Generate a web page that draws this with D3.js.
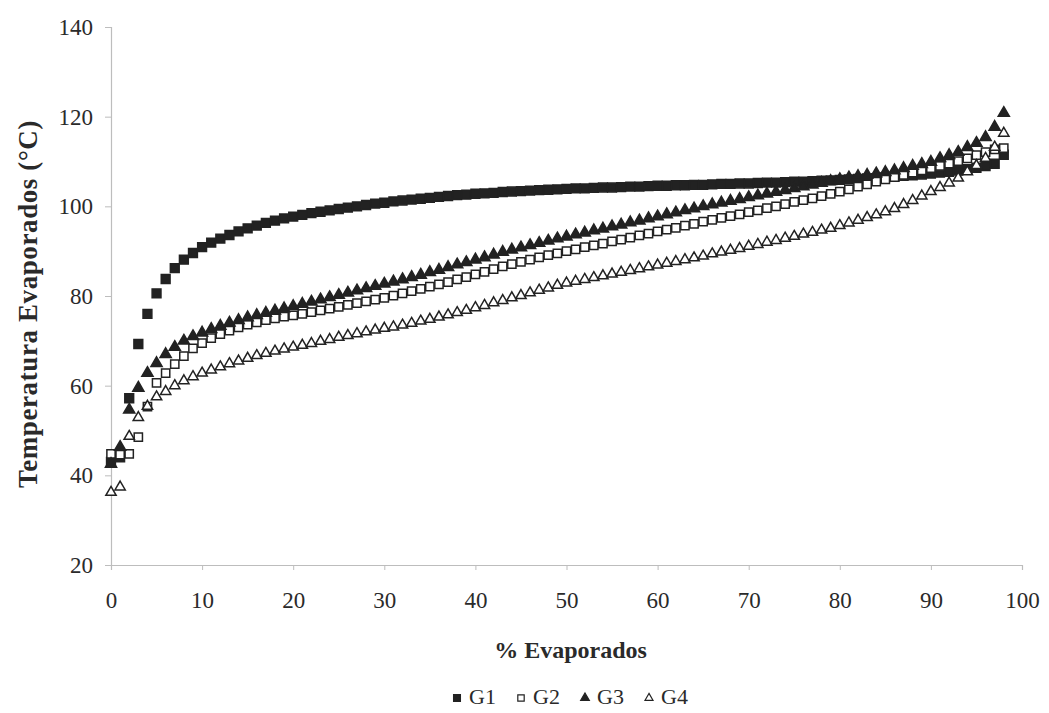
<!DOCTYPE html>
<html>
<head>
<meta charset="utf-8">
<script src="https://cdn.jsdelivr.net/npm/d3@7"></script>
<style>
  body { margin: 0; background: #fff; }
  text { font-family: "Liberation Serif", "Times New Roman", serif; fill: #2a2a2a; }
</style>
</head>
<body>
<svg id="chart"></svg>
<script>
// % evaporated, one point per percent
const pct = d3.range(0, 99);

const g1 = [43.0,44.0,57.2,69.3,76.0,80.6,83.8,86.2,88.1,89.6,
  90.9,91.9,92.8,93.6,94.4,95.1,95.7,96.3,96.8,97.3,
  97.7,98.1,98.5,98.8,99.1,99.4,99.7,100.0,100.3,100.6,
  100.8,101.1,101.3,101.5,101.7,101.9,102.1,102.3,102.5,102.6,
  102.8,102.9,103.0,103.2,103.3,103.4,103.5,103.6,103.7,103.8,
  103.9,104.0,104.0,104.1,104.2,104.2,104.3,104.4,104.4,104.5,
  104.6,104.6,104.7,104.7,104.8,104.8,104.9,105.0,105.0,105.1,
  105.1,105.2,105.3,105.3,105.4,105.5,105.5,105.6,105.7,105.8,
  105.9,106.0,106.1,106.2,106.3,106.5,106.6,106.8,106.9,107.1,
  107.3,107.5,107.7,108.0,108.3,108.6,109.0,109.5,111.5];

const g2 = [44.8,44.6,44.8,48.5,55.3,60.6,62.8,64.8,66.6,68.3,
  69.5,70.6,71.5,72.3,73.0,73.6,74.1,74.6,75.0,75.4,
  75.7,76.0,76.4,76.8,77.2,77.6,78.0,78.4,78.8,79.2,
  79.6,80.1,80.6,81.1,81.6,82.1,82.6,83.1,83.7,84.2,
  84.8,85.4,86.0,86.6,87.1,87.6,88.1,88.6,89.1,89.5,
  90.0,90.4,90.9,91.3,91.7,92.2,92.6,93.0,93.5,93.9,
  94.4,94.8,95.2,95.7,96.1,96.6,97.0,97.4,97.8,98.2,
  98.7,99.1,99.6,100.0,100.5,101.0,101.4,101.8,102.3,102.8,
  103.3,103.8,104.4,104.9,105.5,106.0,106.5,107.0,107.5,108.0,
  108.5,109.0,109.5,110.1,110.7,111.4,112.1,112.7,113.0];

const g3 = [42.5,46.3,54.6,59.5,62.8,65.0,67.0,68.6,70.0,71.0,
  71.8,72.6,73.3,74.0,74.6,75.2,75.7,76.2,76.7,77.2,
  77.7,78.2,78.7,79.2,79.7,80.2,80.7,81.2,81.7,82.2,
  82.7,83.2,83.7,84.2,84.7,85.3,85.8,86.4,87.0,87.5,
  88.1,88.6,89.2,89.8,90.3,90.8,91.3,91.8,92.3,92.8,
  93.2,93.7,94.1,94.6,95.0,95.5,95.9,96.4,96.8,97.3,
  97.7,98.2,98.6,99.1,99.5,100.0,100.4,100.8,101.2,101.6,
  102.0,102.4,102.8,103.2,103.6,104.0,104.4,104.8,105.2,105.6,
  106.0,106.4,106.7,107.0,107.3,107.6,108.0,108.5,109.0,109.4,
  109.9,110.7,111.4,112.1,113.2,114.1,115.4,117.7,120.8];

const g4 = [36.2,37.4,48.7,52.9,55.4,57.5,58.7,60.0,61.1,62.0,
  62.8,63.5,64.2,64.9,65.5,66.1,66.7,67.2,67.7,68.2,
  68.6,69.0,69.4,69.9,70.3,70.8,71.2,71.6,72.0,72.4,
  72.8,73.1,73.5,73.9,74.4,74.8,75.3,75.8,76.3,76.8,
  77.4,77.9,78.5,79.0,79.6,80.1,80.7,81.3,81.8,82.4,
  82.9,83.3,83.7,84.1,84.5,84.9,85.3,85.7,86.1,86.5,
  86.9,87.3,87.7,88.1,88.5,88.9,89.4,89.8,90.2,90.6,
  91.1,91.5,92.0,92.4,92.9,93.3,93.8,94.2,94.7,95.1,
  95.7,96.3,96.9,97.5,98.1,98.8,99.5,100.4,101.3,102.3,
  103.3,104.2,105.2,106.3,107.7,109.1,110.7,113.2,116.3];

const seriesNames = ["G1", "G2", "G3", "G4"];
const xTicks = [0, 10, 20, 30, 40, 50, 60, 70, 80, 90, 100];
const yTicks = [20, 40, 60, 80, 100, 120, 140];

const W = 1049, H = 713;
const margin = {left: 111, right: 27, top: 27, bottom: 148};

const svg = d3.select("#chart").attr("width", W).attr("height", H);

const x = d3.scaleLinear().domain([0, 100]).range([margin.left, W - margin.right]);
const y = d3.scaleLinear().domain([20, 140]).range([H - margin.bottom, margin.top]);

// axes
const xAxis = svg.append("g")
  .attr("transform", "translate(0," + y(20) + ")")
  .call(d3.axisBottom(x).tickValues(xTicks).tickSize(5).tickPadding(22));
const yAxis = svg.append("g")
  .attr("transform", "translate(" + x(0) + ",0)")
  .call(d3.axisLeft(y).tickValues(yTicks).tickSize(6).tickPadding(12));

[xAxis, yAxis].forEach(a => {
  a.select(".domain").attr("stroke", "#bdbdbd").attr("stroke-width", 1.2);
  a.selectAll(".tick line").attr("stroke", "#bdbdbd");
  a.selectAll(".tick text")
    .attr("font-family", "Liberation Serif, serif")
    .attr("font-size", 23)
    .attr("fill", "#333");
});

// titles
svg.append("text")
  .attr("x", (x(0) + x(100)) / 2 + 4)
  .attr("y", 658)
  .attr("text-anchor", "middle")
  .attr("font-size", 24)
  .attr("font-weight", "bold")
  .text("% Evaporados");

svg.append("text")
  .attr("transform", "translate(37," + ((y(20) + y(140)) / 2 + 8) + ") rotate(-90)")
  .attr("text-anchor", "middle")
  .attr("font-size", 27)
  .attr("letter-spacing", 0.6)
  .attr("font-weight", "bold")
  .text("Temperatura Evaporados (°C)");

// series
const series = [
  {name: seriesNames[0], values: g1, type: d3.symbolSquare, size: 78, fill: "#222"},
  {name: seriesNames[1], values: g2, type: d3.symbolSquare, size: 68, fill: "#fff"},
  {name: seriesNames[2], values: g3, type: d3.symbolTriangle, size: 54, fill: "#222"},
  {name: seriesNames[3], values: g4, type: d3.symbolTriangle, size: 46, fill: "#fff"}
];

series.forEach(s => {
  svg.append("g")
    .selectAll("path")
    .data(s.values)
    .join("path")
    .attr("d", d3.symbol().type(s.type).size(s.size))
    .attr("transform", (d, i) => "translate(" + x(pct[i]) + "," + y(d) + ")")
    .attr("fill", s.fill)
    .attr("stroke", "#222")
    .attr("stroke-width", 1.5);
});

// legend
const legend = svg.append("g").attr("transform", "translate(457,704)");
let lx = 0;
series.forEach(s => {
  legend.append("path")
    .attr("d", d3.symbol().type(s.type).size(s.size * 0.6))
    .attr("transform", "translate(" + lx + ",-6)")
    .attr("fill", s.fill)
    .attr("stroke", "#222")
    .attr("stroke-width", 1.2);
  legend.append("text")
    .attr("x", lx + 12)
    .attr("y", 0)
    .attr("font-size", 22)
    .text(s.name);
  lx += 64;
});
</script>
</body>
</html>
